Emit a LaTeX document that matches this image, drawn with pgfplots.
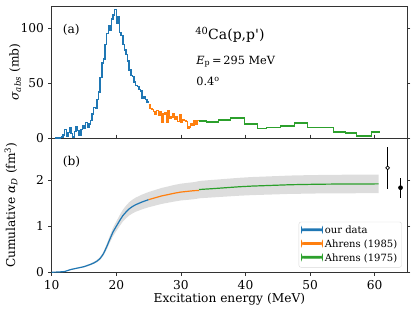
\documentclass[border=0pt]{standalone}
\usepackage{fontspec}
\setmainfont{DejaVu Serif}
\newfontfamily\straight{DejaVu Serif}[Ligatures=TeXOff]
\usepackage{pgfplots}
\pgfplotsset{compat=1.18}
\usepgfplotslibrary{fillbetween}
\usepackage{pgfplotstable}
\definecolor{c0}{HTML}{1F77B4}
\definecolor{c1}{HTML}{FF7F0E}
\definecolor{c2}{HTML}{2CA02C}
\definecolor{bandgray}{RGB}{221,221,221}

\pgfplotstableread{
E sig
10.50 0
10.75 0
11.00 0
11.25 0.5
11.50 1
11.75 3
12.00 8
12.25 2
12.50 5
12.75 9
13.00 4
13.25 1
13.50 6
13.75 10
14.00 7
14.25 3
14.50 8
14.75 11
15.00 9
15.25 14
15.50 10
15.75 13
16.00 16
16.25 22
16.50 28
16.75 27
17.00 35
17.25 42
17.50 55
17.75 68
18.00 72
18.25 85
18.50 95
18.75 102
19.00 98
19.25 108
19.50 112
19.75 117
20.00 104
20.25 110
20.50 96
20.75 93
21.00 85
21.25 80
21.50 76
21.75 70
22.00 62
22.25 57
22.50 56
22.75 51
23.00 48
23.25 47
23.50 44
23.75 43
24.00 36
24.25 38
24.50 35
24.75 33
25.00 33
}\blue

\pgfplotstableread{
E sig
25.00 30
25.25 27
25.50 26
25.75 24
26.00 22
26.25 25
26.50 21
26.75 24
27.00 14
27.25 22
27.50 23
27.75 14
28.00 25
28.25 18
28.50 19
28.75 22
29.00 17
29.25 19
29.50 15
29.75 21
30.00 14
30.25 17
30.50 16
30.75 15
31.00 9
31.25 10
31.50 13
31.75 12
32.00 16
32.25 13
32.50 16
32.75 16
}\orange

\pgfplotstableread{
E sig
32.75 15.7
33.9 14.5
35.8 16.4
37.7 17.9
39.9 12.5
41.8 8.8
43.3 9.7
45.4 11.2
47.6 13.4
49.6 9.7
53.6 5.7
55.5 4.3
57.2 2.1
59.5 5.2
60.8 5.2
}\green

\pgfplotstableread{
E a
10.0 0.0
11.0 0.003
12.0 0.015
13.0 0.06
14.0 0.09
15.0 0.12
16.0 0.17
16.5 0.2
17.0 0.24
17.5 0.3
18.0 0.4
18.5 0.55
19.0 0.72
19.5 0.88
20.0 1.0
20.5 1.12
21.0 1.23
21.5 1.31
22.0 1.38
22.5 1.43
23.0 1.47
24.0 1.53
25.0 1.58
}\cumblue

\pgfplotstableread{
E a
25.0 1.58
26.0 1.62
27.0 1.66
28.0 1.69
29.0 1.72
30.0 1.745
31.0 1.76
32.0 1.775
32.8 1.78
}\cumorange

\pgfplotstableread{
E a
32.8 1.80
35 1.82
37 1.84
39 1.86
41 1.875
43 1.885
45 1.895
47 1.905
49 1.91
51 1.915
53 1.918
55 1.92
57 1.921
59 1.922
60.6 1.923
}\cumgreen

\pgfplotstableread{
E lo hi
12 0.013 0.017
13 0.054 0.066
14 0.081 0.099
15 0.107 0.133
16 0.152 0.188
17 0.215 0.265
17.5 0.268 0.332
18 0.358 0.442
18.5 0.492 0.608
19 0.644 0.796
19.5 0.788 0.972
20 0.895 1.105
20.5 1.002 1.238
21 1.101 1.359
21.5 1.172 1.448
22 1.235 1.525
22.5 1.280 1.580
23 1.316 1.624
24 1.369 1.691
25 1.414 1.746
26 1.450 1.790
27 1.486 1.834
28 1.513 1.867
29 1.539 1.901
30 1.562 1.928
31 1.575 1.945
32 1.589 1.961
33 1.611 1.989
35 1.629 2.011
37 1.647 2.033
39 1.665 2.055
41 1.678 2.072
43 1.687 2.083
45 1.696 2.094
47 1.705 2.105
49 1.709 2.111
51 1.714 2.116
53 1.717 2.119
55 1.718 2.122
57 1.719 2.123
60.6 1.721 2.125
}\band

\begin{document}
\fontsize{12.2}{14}\selectfont
\begin{tikzpicture}
\pgfplotsset{
  every axis/.append style={
    scale only axis, width=355pt,
    xmin=10, xmax=65,
    tick align=outside, major tick length=3.5pt,
    ytick pos=both,
    axis line style={black!80, line width=0.6pt},
    tick style={black!80, line width=0.6pt},
    /pgf/number format/assume math mode=true,
    tick label style={font=\fontsize{12.2}{14}\selectfont},
    label style={font=\fontsize{11.7}{14}\selectfont},
    clip=true,
  },
}
\begin{axis}[
  name=top, height=132pt,
  ymin=0, ymax=120, ytick={0,50,100}, xtick=\empty,
  every axis y label/.style={at={(axis description cs:-0.103,0.5)}, rotate=90, anchor=center},
  ylabel={{\itshape σ}\textsubscript{\itshape abs} (mb)},
]
\addplot[const plot, draw=c0, line width=1.5pt] table[x=E,y=sig]{\blue};
\addplot[const plot, draw=c1, line width=1.5pt] table[x=E,y=sig]{\orange};
\addplot[const plot, draw=c2, line width=1.1pt, yshift=0.35pt] table[x=E,y=sig]{\green};
\addplot[const plot, draw=c2, line width=1.1pt, yshift=-0.35pt] table[x=E,y=sig]{\green};
\node[anchor=west, font=\fontsize{12.2}{14}\selectfont] at (rel axis cs:0.019,0.82) {(a)};
\node[anchor=west, font=\fontsize{14}{16}\selectfont] at (rel axis cs:0.392,0.78) {\textsuperscript{40}Ca(p,p{\straight '})};
\node[anchor=west, font=\fontsize{11.3}{13}\selectfont] at (rel axis cs:0.395,0.578) {{\itshape E}\textsubscript{p}\,=\,295 MeV};
\node[anchor=west, font=\fontsize{11.3}{13}\selectfont] at (rel axis cs:0.395,0.427) {0.4\textsuperscript{o}};
\end{axis}
\begin{axis}[
  name=bot, at={(top.south west)}, anchor=north west, height=134pt,
  ymin=0, ymax=2.92, ytick={0,1,2}, xtick={10,20,30,40,50,60}, xtick pos=both,
  every axis y label/.style={at={(axis description cs:-0.115,0.5)}, rotate=90, anchor=center},
  ylabel={Cumulative {\itshape α\textsubscript{D}} (fm\textsuperscript{3})},
  every axis x label/.style={at={(axis description cs:0.5,-0.204)}, anchor=center},
  xlabel={Excitation energy (MeV)},
  legend style={at={(0.985,0.035)}, anchor=south east, draw=black!15, rounded corners=2pt,
    font=\fontsize{10}{12}\selectfont, row sep=0.3pt, inner sep=2.2pt},
  legend cell align=left,
]
\addplot[name path=up, draw=none, forget plot] table[x=E,y=hi]{\band};
\addplot[name path=lo, draw=none, forget plot] table[x=E,y=lo]{\band};
\addplot[fill=bandgray, draw=none, forget plot] fill between[of=up and lo];
\addplot[draw=c0, line width=1.2pt, legend image code/.code={\fill[c0] (0cm,0.012cm) rectangle (0.72cm,0.066cm);}] table[x=E,y=a]{\cumblue};
\addlegendentry{our data}
\addplot[draw=c1, line width=1.2pt, legend image code/.code={\fill[c1] (0cm,0.012cm) rectangle (0.72cm,0.066cm);}] table[x=E,y=a]{\cumorange};
\addlegendentry{Ahrens (1985)}
\addplot[draw=c2, line width=1.2pt, legend image code/.code={\fill[c2] (0cm,0.012cm) rectangle (0.72cm,0.066cm);}] table[x=E,y=a]{\cumgreen};
\addlegendentry{Ahrens (1975)}
\addplot[only marks, black, mark=*, mark size=1.9pt, mark options={fill=white, draw=black, line width=0.7pt}, forget plot,
  error bars/.cd, y dir=both, y explicit, error mark=none, error bar style={line width=1pt, black}]
  coordinates {(62.0,2.27) +- (0,0.45)};
\addplot[only marks, black, mark=*, mark size=2.1pt, forget plot,
  error bars/.cd, y dir=both, y explicit, error mark=none, error bar style={line width=1pt, black}]
  coordinates {(64.0,1.84) +- (0,0.22)};
\node[anchor=west, font=\fontsize{12.2}{14}\selectfont] at (rel axis cs:0.019,0.82) {(b)};
\end{axis}
\path[use as bounding box] ([shift={(-51.7pt,6pt)}]top.north west) rectangle ([shift={(8pt,-40.3pt)}]bot.south east);
\end{tikzpicture}
\end{document}
